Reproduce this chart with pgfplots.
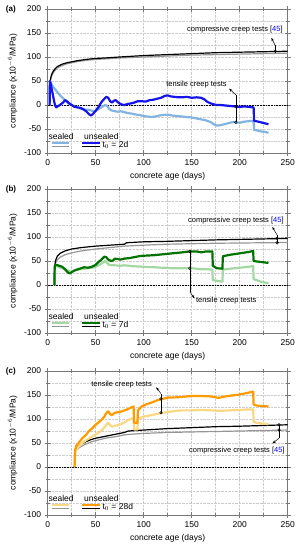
\documentclass[border=0pt]{standalone}
\usepackage{pgfplots}
\pgfplotsset{compat=1.18}
\usepackage{fontspec}
\setmainfont{Liberation Sans}
\usetikzlibrary{arrows.meta}
\definecolor{lblue}{RGB}{130,180,225}
\definecolor{dblue}{RGB}{20,20,235}
\definecolor{lgreen}{RGB}{165,215,165}
\definecolor{dgreen}{RGB}{0,115,0}
\definecolor{lorange}{RGB}{250,215,130}
\definecolor{dorange}{RGB}{255,155,0}
\definecolor{gline}{RGB}{150,150,150}
\definecolor{frame}{RGB}{120,120,120}
\tikzset{
 ann/.style={font=\fontsize{7.5bp}{9bp}\selectfont, inner sep=0pt},
 lbl/.style={font=\fontsize{8.5bp}{10bp}\selectfont, inner sep=0pt},
 plab/.style={font=\bfseries\fontsize{8bp}{10bp}\selectfont, anchor=west, inner sep=0pt},
}
\pgfplotsset{
 panel/.style={
  scale only axis, width=240bp, height=144bp,
  xmin=0, xmax=250, ymin=-100, ymax=200,
  xtick={0,50,...,250}, ytick={-100,-50,...,200},
  minor x tick num=1, minor y tick num=1,
  grid=both,
  major grid style={densely dotted, gray!40, line width=0.5pt},
  minor grid style={densely dotted, gray!40, line width=0.5pt},
  axis line style={frame, line width=0.8pt},
  tick style={frame, line width=0.8pt},
  tick align=center,
  major tick length=6bp, minor tick length=4bp,
  xlabel={concrete age (days)},
  ylabel={compliance (x10$^{-6}$/MPa)},
  ticklabel style={font=\fontsize{8.5bp}{10bp}\selectfont},
  label style={font=\fontsize{8.5bp}{10bp}\selectfont},
  /pgf/number format/assume math mode=true,
  clip=false,
 },
 cl/.style={line width=2.2bp, line join=round},
 kl/.style={line width=1.2bp, line join=round},
 al/.style={black, line width=0.5bp},
 am/.style={only marks, mark=o, mark size=1.3bp, mark options={black, line width=0.5bp}},
 aa/.style={black, line width=0.5bp, -{Stealth[length=3.5bp, width=2.5bp]}},
}
\newcommand{\zeroline}{\addplot[black, densely dotted, line width=0.6pt] coordinates {(0,0) (250,0)};}
\newcommand{\legendbits}[3]{%
 \addplot[cl, #1] coordinates {(4,-79) (22,-79)};
 \addplot[kl, gline] coordinates {(4,-86) (22,-86)};
 \addplot[cl, #2] coordinates {(36,-79) (54,-79)};
 \addplot[kl, black] coordinates {(36,-86) (54,-86)};
 \node[lbl] at (axis cs:14,-65) {sealed};
 \node[lbl] at (axis cs:56,-65) {unsealed};
 \node[lbl, anchor=west] at (axis cs:57,-83) {t$_0$ = #3};
}
\begin{document}
\begin{tikzpicture}
%%%%%%%%%%%%%%%% (a)
\begin{axis}[panel, at={(0,0)}, anchor=north west]
\zeroline
\addplot[kl, gline] coordinates {(2,0) (2.2,30) (2.5,45) (3,52) (4,60) (6,68) (8,73) (10,77) (15,82) (20,86) (30,90) (40,93) (50,95) (60,96) (75,98) (100,100) (125,102) (150,104) (175,105) (200,106) (225,107) (250,108)};
\addplot[kl, black] coordinates {(2,0) (2.2,32) (2.5,48) (3,55) (4,63) (6,71) (8,76) (10,80) (15,85) (20,88) (30,92) (40,95) (50,97) (60,98) (75,100) (100,103) (125,105) (150,107) (175,109) (200,110) (225,111) (250,112)};
\addplot[cl, lblue] coordinates {(2,0) (2.3,50) (3,47) (4,44) (5,40) (6,37) (8,32) (10,27) (12,22) (14,18) (16,14) (18,10) (20,6) (22,3) (25,0) (28,-3) (31,-5) (34,-7) (37,-8) (40,-10) (43,-10) (46,-12) (49,-13) (52,-10) (55,-6) (58,-2) (60,0) (62,-2) (64,-8) (66,-11) (68,-12) (70,-13) (73,-14) (76,-13) (80,-15) (84,-17) (88,-18) (92,-20) (96,-21) (100,-23) (104,-24) (108,-25) (112,-24) (116,-22) (120,-21) (125,-20) (130,-22) (135,-23) (140,-24) (145,-25) (150,-26) (155,-28) (160,-30) (165,-32) (170,-36) (173,-40) (176,-43) (180,-42) (184,-40) (188,-38) (192,-36) (196,-36) (200,-37) (204,-35) (208,-34) (212,-33) (214.5,-35) (215,-52) (218,-53) (222,-55) (226,-56) (230,-58)};
\addplot[cl, dblue] coordinates {(2,0) (2.3,50) (3,45) (4,35) (5,25) (6,15) (7,5) (8,-2) (9,-5) (10,-3) (12,-1) (14,2) (16,5) (18,10) (20,8) (22,4) (25,0) (28,-4) (31,-5) (34,-6) (37,-9) (40,-13) (43,-19) (45,-22) (47,-19) (50,-12) (53,-4) (56,6) (59,13) (61,17) (63,15) (65,8) (67,5) (69,9) (71,10) (73,6) (75,3) (77,1) (80,0) (83,2) (86,3) (90,5) (94,8) (98,8) (102,7) (106,10) (110,11) (114,13) (118,15) (122,19) (125,20) (128,18) (132,17) (136,16) (140,16) (145,17) (150,15) (155,16) (160,15) (163,12) (166,7) (169,4) (172,2) (176,0) (180,0) (185,-1) (190,-2) (195,-3) (200,-4) (205,-3) (210,-4) (214.5,-5) (215,-33) (218,-34) (222,-36) (226,-38) (230,-40)};
% annotations
\addplot[al] coordinates {(196,-36) (196,21)};
\addplot[aa] coordinates {(196,21) (189,34)};
\addplot[am] coordinates {(196,-36) (196,-3)};
\node[ann] at (axis cs:155,42) {tensile creep tests};
\addplot[al] coordinates {(237,108) (237,124)};
\addplot[aa] coordinates {(237,124) (233,140)};
\addplot[am] coordinates {(237,112)};
\node[ann] at (axis cs:195,158) {compressive creep tests [\textcolor{blue}{45}]};
\legendbits{lblue}{dblue}{2d}
\node[plab] at (rel axis cs:-0.175,1) {(a)};
\end{axis}
%%%%%%%%%%%%%%%% (b)
\begin{axis}[panel, at={(0,-180bp)}, anchor=north west]
\zeroline
\addplot[kl, gline] coordinates {(7,0) (7.2,30) (8,45) (10,52) (13,58) (18,63) (25,67) (35,71) (50,75) (65,78) (80,81) (100,83) (125,85) (150,86) (175,87) (200,87.5) (225,88) (250,88.5)};
\addplot[kl, black] coordinates {(7,0) (7.2,35) (8,50) (10,60) (13,66) (18,71) (25,75) (35,78) (50,81) (65,83) (80,85) (82,88) (100,90) (125,91) (150,92.5) (175,94) (200,95) (225,96) (250,97)};
\addplot[cl, lgreen] coordinates {(7,0) (7.3,38) (9,40) (12,37) (15,35) (18,33) (21,30) (24,28) (27,30) (30,32) (34,33) (38,34) (42,35) (46,36) (50,38) (54,42) (57,46) (60,50) (62,46) (64,42) (67,41) (70,41) (75,40) (80,41) (90,39) (100,38) (110,37) (120,36) (130,35) (140,35) (150,35) (160,33) (166,33) (171.5,32) (172,10) (176,9) (182,7) (182.5,32) (190,34) (200,36) (210,38) (214,40) (214.5,12) (218,10) (222,7) (226,5) (230,4)};
\addplot[cl, dgreen] coordinates {(7,0) (7.3,40) (9,42) (12,40) (15,38) (18,33) (21,26) (23,24) (26,28) (29,31) (32,33) (35,35) (38,37) (42,36) (46,38) (50,42) (53,48) (56,53) (59,59) (61,58) (63,53) (66,50) (68,51) (70,55) (73,54) (76,53) (80,55) (85,56) (90,58) (95,60) (100,61) (110,62) (120,64) (130,66) (140,68) (148,70) (155,70) (160,68) (165,70) (171.5,70) (172,40) (176,35) (182,34) (182.5,60) (190,63) (200,66) (210,69) (214,71) (214.5,50) (218,49) (222,48) (226,47) (230,46)};
\addplot[al] coordinates {(148,70) (148,-14)};
\addplot[aa] coordinates {(148,-14) (153,-28)};
\addplot[am] coordinates {(148,70) (148,35)};
\node[ann] at (axis cs:186,-32) {tensile creep tests};
\addplot[al] coordinates {(239,88) (239,104)};
\addplot[aa] coordinates {(239,104) (234,121)};
\addplot[am] coordinates {(239,97) (239,88)};
\node[ann] at (axis cs:196,134) {compressive creep tests [\textcolor{blue}{45}]};
\legendbits{lgreen}{dgreen}{7d}
\node[plab] at (rel axis cs:-0.175,1) {(b)};
\end{axis}
%%%%%%%%%%%%%%%% (c)
\begin{axis}[panel, at={(0,-362bp)}, anchor=north west]
\zeroline
\addplot[kl, gline] coordinates {(28,0) (28.2,25) (29,33) (31,38) (35,43) (40,48) (45,52) (50,55) (60,60) (70,63) (80,67) (85,68) (100,70) (125,72) (150,73) (175,74) (200,75) (225,76) (250,77)};
\addplot[kl, black] coordinates {(28,0) (28.2,28) (29,36) (31,42) (35,48) (40,53) (45,57) (50,60) (60,64) (70,68) (80,72) (84,75) (100,77) (125,80) (150,82) (175,84) (200,85) (225,86.5) (250,88)};
\addplot[cl, lorange] coordinates {(28,0) (28.5,30) (30,38) (33,44) (36,50) (40,56) (45,62) (50,68) (55,74) (58,80) (61,88) (63,92) (65,87) (67,84) (70,86) (75,88) (80,93) (84,98) (88,101) (89.5,102) (90,78) (93.5,78) (94,100) (100,105) (110,109) (120,113) (130,116) (140,118) (150,118) (160,119) (170,118) (180,117) (190,118) (200,119) (210,120) (214,120) (214.5,94) (218,92) (222,91) (226,90) (230,89)};
\addplot[cl, dorange] coordinates {(28,0) (28.5,35) (30,45) (33,52) (36,60) (40,67) (43,75) (46,80) (50,88) (53,93) (56,98) (59,105) (61,112) (63,116) (65,110) (67,108) (69,112) (72,114) (76,115) (80,118) (84,121) (88,125) (89.5,126) (90,92) (93.5,92) (94,118) (98,126) (102,130) (108,134) (114,139) (120,142) (126,145) (132,145) (140,146) (150,148) (160,148) (170,147) (178,144) (185,147) (192,149) (200,151) (207,154) (214,157) (214.5,130) (218,128) (222,127) (226,127) (230,126)};
\addplot[al] coordinates {(118,113) (118,153)};
\addplot[aa] coordinates {(118,153) (113,166)};
\addplot[am] coordinates {(118,142) (118,113)};
\node[ann] at (axis cs:77,172) {tensile creep tests};
\addplot[al] coordinates {(241,88) (241,60)};
\addplot[aa] coordinates {(241,60) (234,49)};
\addplot[am] coordinates {(241,88) (241,77)};
\node[ann] at (axis cs:197,35) {compressive creep tests [\textcolor{blue}{45}]};
\legendbits{lorange}{dorange}{28d}
\node[plab] at (rel axis cs:-0.175,1) {(c)};
\end{axis}
\path[use as bounding box] (-47.7bp,9bp) rectangle (253.3bp,-541bp);
\end{tikzpicture}
\end{document}
